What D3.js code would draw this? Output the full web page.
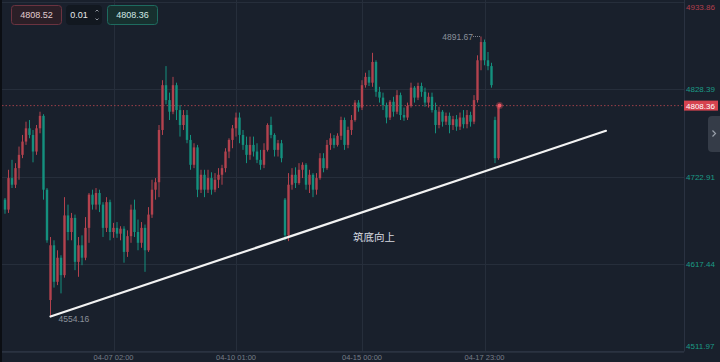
<!DOCTYPE html>
<html><head><meta charset="utf-8">
<script src="https://cdn.jsdelivr.net/npm/d3@7"></script>
<style>html,body{margin:0;padding:0;background:#19202c;overflow:hidden}</style>
</head><body><svg id="c" width="720" height="362"></svg>
<script>
// ---- data (price values) ----
const opens = [4695,4683,4721,4713,4733,4749,4765,4781,4773,4753,
4781,4796,4707,4574,4640,4596,4625,4604,4676,4656,
4673,4620,4640,4625,4661,4701,4689,4703,4689,4661,
4692,4656,4661,4654,4660,4632,4651,4683,4656,4643,
4661,4634,4677,4707,4716,4779,4833,4815,4801,4833,
4803,4785,4797,4767,4737,4758,4707,4725,4707,4721,
4707,4719,4725,4733,4753,4767,4781,4794,4773,4761,
4749,4761,4753,4743,4737,4755,4785,4773,4755,4763,
4695,4652,4713,4725,4715,4731,4737,4713,4725,4707,
4721,4745,4733,4761,4769,4761,4772,4791,4761,4779,
4791,4812,4806,4833,4843,4836,4861,4825,4818,4809,
4794,4813,4801,4821,4797,4794,4808,4830,4818,4832,
4825,4812,4819,4803,4785,4801,4789,4796,4785,4792,
4783,4794,4786,4797,4789,4815,4863,4885,4863,4856,
4791,4745];
const closes = [4683,4721,4713,4733,4749,4765,4781,4773,4753,4781,
4796,4707,4646,4640,4596,4625,4604,4676,4656,4673,
4620,4640,4625,4661,4701,4689,4703,4689,4661,4692,
4656,4661,4654,4660,4632,4651,4683,4656,4643,4661,
4634,4677,4707,4716,4779,4833,4815,4801,4833,4803,
4785,4797,4767,4737,4758,4707,4725,4707,4721,4707,
4719,4725,4733,4753,4767,4781,4794,4773,4761,4749,
4761,4753,4743,4737,4755,4785,4773,4755,4763,4745,
4652,4713,4725,4715,4731,4737,4713,4725,4707,4721,
4745,4733,4761,4769,4761,4772,4791,4761,4779,4791,
4812,4806,4833,4843,4836,4861,4825,4818,4809,4794,
4813,4801,4821,4797,4794,4808,4830,4818,4832,4825,
4812,4819,4803,4785,4801,4789,4796,4785,4792,4783,
4794,4786,4797,4789,4815,4863,4885,4863,4856,4833,
4745,4808.36];
const highs = [4697,4731,4743,4739,4759,4773,4789,4791,4779,4785,
4801,4798,4709,4650,4646,4634,4628,4698,4689,4679,
4677,4650,4652,4674,4703,4707,4709,4707,4692,4698,
4695,4667,4668,4663,4663,4658,4689,4695,4671,4668,
4665,4686,4719,4721,4785,4839,4856,4824,4843,4836,
4809,4803,4803,4773,4763,4761,4731,4731,4731,4728,
4727,4733,4737,4757,4769,4785,4800,4800,4779,4771,
4771,4771,4763,4755,4763,4787,4795,4775,4767,4767,
4697,4727,4733,4734,4739,4740,4739,4731,4727,4727,
4751,4751,4767,4775,4773,4775,4795,4794,4783,4797,
4815,4815,4839,4848,4851,4872,4863,4831,4824,4812,
4815,4819,4827,4824,4806,4812,4836,4832,4836,4836,
4830,4824,4824,4812,4807,4803,4800,4800,4796,4797,
4800,4803,4803,4801,4821,4869,4891.67,4888,4873,4860,
4795,4808.36];
const lows = [4678,4679,4709,4709,4719,4745,4761,4769,4740,4749,
4775,4695,4643,4554.16,4589,4592,4582,4601,4646,4646,
4610,4602,4616,4622,4643,4683,4683,4680,4650,4656,
4646,4649,4649,4646,4619,4626,4643,4650,4634,4637,
4608,4632,4673,4695,4698,4773,4810,4791,4798,4791,
4771,4779,4763,4731,4733,4698,4703,4698,4703,4701,
4704,4709,4713,4728,4745,4757,4771,4763,4755,4739,
4743,4747,4739,4731,4733,4753,4769,4747,4747,4740,
4646,4645,4707,4709,4713,4721,4707,4703,4698,4701,
4719,4728,4731,4755,4757,4759,4767,4755,4757,4773,
4789,4801,4803,4830,4832,4831,4819,4812,4803,4787,
4791,4795,4798,4791,4790,4791,4806,4812,4815,4819,
4807,4806,4800,4775,4781,4783,4785,4775,4779,4778,
4779,4781,4781,4783,4786,4812,4851,4857,4851,4830,
4739,4743];
const priceTicks = [4933.86, 4828.39, 4722.91, 4617.44, 4511.97];
const timeTickIndex = [31, 66, 102, 137];
const timeTickLabels = ["04-07 02:00", "04-10 01:00", "04-15 00:00", "04-17 23:00"];
const lastPrice = 4808.36;
const bidPrice = "4808.52", stepSize = "0.01", askPrice = "4808.36";
const lowMark = {index: 13, price: 4554.16, label: "4554.16"};
const highMark = {index: 136, price: 4891.67, label: "4891.67"};
const trendLine = [{index: 13, price: 4554.16}, {index: 171.7, price: 4778}];
const note = {index: 105.4, price: 4645, text: "筑底向上"};

// ---- drawing ----
const W = 720, H = 362;
const plotRight = 684, plotBottom = 351.5;
const svg = d3.select("#c");
const n = closes.length;
const x = d3.scaleLinear().domain([0, n - 1]).range([5, 498.5]);
const y = d3.scaleLinear().domain([4511.97, 4933.86]).range([plotBottom, 1.5]);
const UP = "#b3424e", DOWN = "#14907e";
const font = "'Liberation Sans', Arial, sans-serif";

svg.append("rect").attr("width", W).attr("height", H).attr("fill", "#19202c");

// grid
const grid = svg.append("g").attr("stroke", "#262e3b").attr("stroke-width", 1).attr("shape-rendering", "crispEdges");
priceTicks.forEach(p => grid.append("line").attr("x1", 0).attr("x2", plotRight).attr("y1", Math.round(y(p)) + 0.5).attr("y2", Math.round(y(p)) + 0.5));
timeTickIndex.forEach(i => grid.append("line").attr("x1", Math.round(x(i)) + 0.5).attr("x2", Math.round(x(i)) + 0.5).attr("y1", 0).attr("y2", plotBottom));

// frame
svg.append("line").attr("x1", plotRight + 0.5).attr("x2", plotRight + 0.5).attr("y1", 0).attr("y2", plotBottom).attr("stroke", "#2a3241");
svg.append("line").attr("x1", 0).attr("x2", plotRight).attr("y1", 351.5).attr("y2", 351.5).attr("stroke", "#2a3241");
svg.append("rect").attr("x", 0).attr("y", 0).attr("width", 2).attr("height", H).attr("fill", "#0b0e13");

// last price dotted line
svg.append("line").attr("x1", 2).attr("x2", plotRight).attr("y1", y(lastPrice)).attr("y2", y(lastPrice))
  .attr("stroke", "#9a3f4a").attr("stroke-width", 1).attr("stroke-dasharray", "1.5,2");

// candles
const bw = 2.4;
const cg = svg.append("g");
d3.range(n).forEach(i => {
  const up = closes[i] >= opens[i];
  const col = up ? UP : DOWN;
  const cx = x(i);
  cg.append("line").attr("x1", cx).attr("x2", cx).attr("y1", y(highs[i])).attr("y2", y(lows[i]))
    .attr("stroke", col).attr("stroke-width", 1);
  const top = y(Math.max(opens[i], closes[i])), bot = y(Math.min(opens[i], closes[i]));
  cg.append("rect").attr("x", cx - bw / 2).attr("y", top).attr("width", bw).attr("height", Math.max(1, bot - top)).attr("fill", col);
});

// trend line
svg.append("line").attr("x1", x(trendLine[0].index)).attr("y1", y(trendLine[0].price))
  .attr("x2", x(trendLine[1].index)).attr("y2", y(trendLine[1].price))
  .attr("stroke", "#f2f2f2").attr("stroke-width", 2.2).attr("stroke-linecap", "round");

// low / high marks
svg.append("text").attr("x", x(lowMark.index) + 8).attr("y", y(lowMark.price) + 6)
  .attr("font-family", font).attr("font-size", 8.5).attr("fill", "#8b919b").text(lowMark.label);
svg.append("line").attr("x1", x(highMark.index) - 8).attr("x2", x(highMark.index)).attr("y1", y(highMark.price)).attr("y2", y(highMark.price))
  .attr("stroke", "#7d838d").attr("stroke-dasharray", "1,1");
svg.append("text").attr("x", x(highMark.index) - 8).attr("y", y(highMark.price) + 3.5).attr("text-anchor", "end")
  .attr("font-family", font).attr("font-size", 8.5).attr("fill", "#8b919b").text(highMark.label);

// note
svg.append("text").attr("x", x(note.index)).attr("y", y(note.price)).attr("text-anchor", "middle")
  .attr("font-family", "'Noto Sans CJK SC', sans-serif").attr("font-size", 10.5).attr("fill", "#d6dae0").text(note.text);

// last dot
svg.append("circle").attr("cx", x(n - 1) + 1).attr("cy", y(lastPrice)).attr("r", 3.5).attr("fill", "#e5505c").attr("opacity", 0.35);
svg.append("circle").attr("cx", x(n - 1) + 1).attr("cy", y(lastPrice)).attr("r", 2).attr("fill", "#ee5a66");

// price axis labels
priceTicks.forEach((p, k) => {
  let ty = y(p) + 3;
  ty = Math.max(10, Math.min(349, ty));
  svg.append("text").attr("x", 686).attr("y", ty).attr("font-family", font).attr("font-size", 8)
    .attr("fill", k === 0 ? "#b23f4d" : "#1b9a86").text(p.toFixed(2));
});
// current price box
svg.append("rect").attr("x", 684).attr("y", y(lastPrice) - 5).attr("width", 34).attr("height", 10).attr("fill", "#d6434f");
svg.append("text").attr("x", 686).attr("y", y(lastPrice) + 3).attr("font-family", font).attr("font-size", 8)
  .attr("fill", "#ffffff").text(lastPrice.toFixed(2));
// side tab
svg.append("rect").attr("x", 708).attr("y", 116).attr("width", 16).attr("height", 36).attr("rx", 4).attr("fill", "#353c48");
svg.append("path").attr("d", "M712.5,130.5 L715.5,133.5 L712.5,136.5").attr("fill", "none").attr("stroke", "#9aa1ab").attr("stroke-width", 1.2);

// time labels
timeTickIndex.forEach((i, k) => {
  svg.append("text").attr("x", x(i)).attr("y", 360).attr("text-anchor", "middle").attr("font-family", font)
    .attr("font-size", 7.5).attr("fill", "#767d88").text(timeTickLabels[k]);
});

// top controls
function box(x0, w, fill, stroke, txt, tcol) {
  svg.append("rect").attr("x", x0 + 0.5).attr("y", 5.5).attr("width", w).attr("height", 19).attr("rx", 3)
    .attr("fill", fill).attr("stroke", stroke);
  svg.append("text").attr("x", x0 + w / 2 + 0.5).attr("y", 18).attr("text-anchor", "middle").attr("font-family", font)
    .attr("font-size", 9).attr("fill", tcol).text(txt);
}
box(11, 50, "#2b1f27", "#6b3340", bidPrice, "#e2cdd0");
box(66, 35, "#121820", "#121820", "", "#fff");
svg.append("text").attr("x", 79).attr("y", 18).attr("text-anchor", "middle").attr("font-family", font)
  .attr("font-size", 9).attr("fill", "#e6e8eb").text(stepSize);
svg.append("path").attr("d", "M95.5,11.5 L97,10 L98.5,11.5").attr("fill", "none").attr("stroke", "#8d939c");
svg.append("path").attr("d", "M95.5,18.5 L97,20 L98.5,18.5").attr("fill", "none").attr("stroke", "#8d939c");
box(107, 50, "#17302f", "#1e6b5f", askPrice, "#d3e8e4");
</script></body></html>
